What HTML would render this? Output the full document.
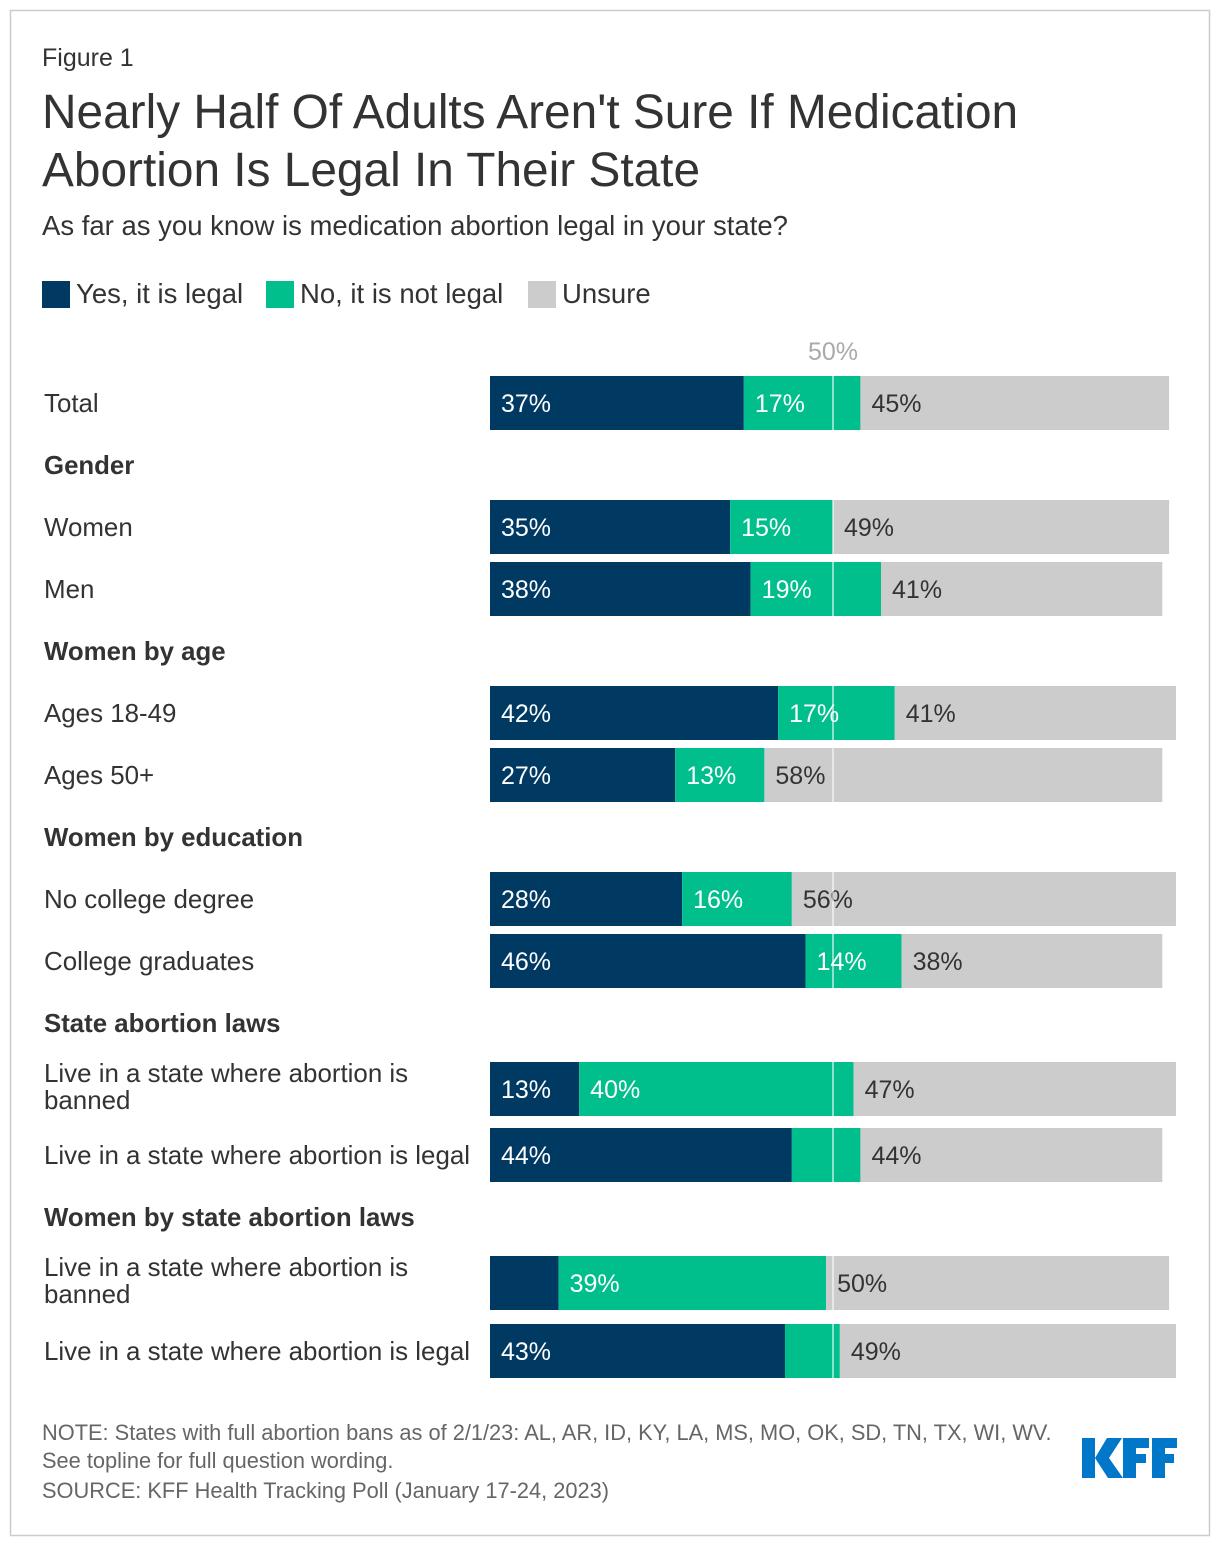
<!DOCTYPE html>
<html><head><meta charset="utf-8"><style>
body{margin:0;background:#fff;font-family:"Liberation Sans",Arial,sans-serif;}
svg text{font-family:"Liberation Sans",Arial,sans-serif;}
</style></head><body>
<svg width="1220" height="1546" xmlns="http://www.w3.org/2000/svg" id="chart">
<rect x="10.5" y="10.5" width="1199" height="1525" fill="#fff" stroke="#ccc" stroke-width="1.5"/>
<text x="42" y="66" font-size="25" fill="#333">Figure 1</text>
<text x="42" y="128" font-size="47.8" fill="#333">Nearly Half Of Adults Aren't Sure If Medication</text>
<text x="42" y="186" font-size="47.8" fill="#333">Abortion Is Legal In Their State</text>
<text x="42" y="235" font-size="27.5" fill="#333">As far as you know is medication abortion legal in your state?</text>
<g>
<rect x="42" y="281" width="28" height="27" fill="#003A63"/>
<text x="76" y="303" font-size="27.5" fill="#333">Yes, it is legal</text>
<rect x="266" y="281" width="28" height="27" fill="#00BF8C"/>
<text x="300" y="303" font-size="27.5" fill="#333">No, it is not legal</text>
<rect x="528" y="281" width="28" height="27" fill="#CCCCCC"/>
<text x="562" y="303" font-size="27.5" fill="#333">Unsure</text>
</g>
<g id="plot"></g>
<text x="42" y="1440" font-size="21.8" fill="#666">NOTE: States with full abortion bans as of 2/1/23: AL, AR, ID, KY, LA, MS, MO, OK, SD, TN, TX, WI, WV.</text>
<text x="42" y="1468" font-size="21.8" fill="#666">See topline for full question wording.</text>
<text x="42" y="1498" font-size="21.8" fill="#666">SOURCE: KFF Health Tracking Poll (January 17-24, 2023)</text>
<g fill="#0077C8">
<rect x="1082" y="1438" width="13" height="40"/>
<polygon points="1095,1458 1107,1438 1122,1438 1109,1458 1123,1478 1108,1478"/>
<rect x="1123" y="1438" width="13" height="40"/>
<rect x="1123" y="1438" width="26" height="10"/>
<rect x="1123" y="1454" width="23" height="9"/>
<rect x="1152" y="1438" width="13" height="40"/>
<rect x="1152" y="1438" width="25" height="10"/>
<rect x="1152" y="1454" width="22" height="9"/>
</g>
</svg>
<script>
const categories = ["Total","Gender","Women","Men","Women by age","Ages 18-49","Ages 50+","Women by education","No college degree","College graduates","State abortion laws","Live in a state where abortion is banned","Live in a state where abortion is legal","Women by state abortion laws","Live in a state where abortion is banned","Live in a state where abortion is legal"];
const isHeader = [false,true,false,false,true,false,false,true,false,false,true,false,false,true,false,false];
const yesValues = [37,null,35,38,null,42,27,null,28,46,null,13,44,null,10,43];
const noValues = [17,null,15,19,null,17,13,null,16,14,null,40,10,null,39,8];
const unsureValues = [45,null,49,41,null,41,58,null,56,38,null,47,44,null,50,49];
const refLabel = "50%";
const refValue = 50;

const NS="http://www.w3.org/2000/svg";
const plot=document.getElementById('plot');
const x0=490, pxPer=6.86;
const xs=v=>x0+v*pxPer;
const rowY=[403,465,527,589,651,713,775,837,899,961,1023,1089,1155,1217,1283,1351];
function mk(tag,attrs){const e=document.createElementNS(NS,tag);for(const k in attrs)e.setAttribute(k,attrs[k]);return e;}

categories.forEach((c,i)=>{
  const y=rowY[i];
  if(isHeader[i]){
    const t=mk('text',{x:44,y:y+9,'font-size':25.8,'font-weight':'bold',fill:'#333'});
    
    
    t.textContent=c;plot.appendChild(t);return;
  }
  const lab=mk('text',{x:44,'font-size':25.9,fill:'#333'});
  
  
  if(c==="Live in a state where abortion is banned"){
    lab.setAttribute('y',y-7);
    const t1=mk('tspan',{x:44,dy:0});t1.textContent="Live in a state where abortion is";
    const t2=mk('tspan',{x:44,dy:27});t2.textContent="banned";
    lab.appendChild(t1);lab.appendChild(t2);
  } else {lab.setAttribute('y',y+9);lab.textContent=c;}
  plot.appendChild(lab);
  const segs=[[yesValues[i],'#003A63','#fff','bar-yes'],[noValues[i],'#00BF8C','#fff','bar-no'],[unsureValues[i],'#CCCCCC','#333','bar-unsure']];
  let acc=0;
  segs.forEach(s=>{
    const v=s[0];const xa=xs(acc), xb=xs(acc+v);
    const r=mk('rect',{x:xa,y:y-27,width:xb-xa,height:54,fill:s[1]});
    
    
    plot.appendChild(r);
    if(v>=11){
      const t=mk('text',{x:xa+11,y:y+9,'font-size':25,fill:s[2]});
      
      
      t.textContent=v+'%';plot.appendChild(t);
    }
    acc+=v;
  });
});
const rx=xs(refValue);
const line=mk('line',{x1:rx,x2:rx,y1:376,y2:1378,stroke:'#fff','stroke-opacity':0.55,'stroke-width':2});


plot.appendChild(line);
const rl=mk('text',{x:rx,y:360,'font-size':25,fill:'#aaa','text-anchor':'middle'});


rl.textContent=refLabel;plot.appendChild(rl);
</script>
</body></html>
